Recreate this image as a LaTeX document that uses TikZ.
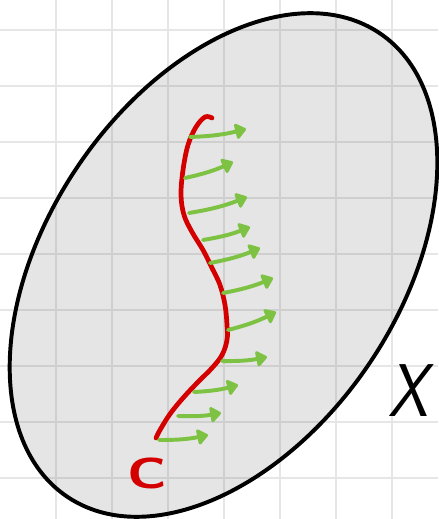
\documentclass[tikz,border=0pt]{standalone}
\usepackage{xcolor}
\usepackage{tikz}
\usetikzlibrary{arrows.meta}
\definecolor{curvered}{HTML}{D40000}
\definecolor{vecgreen}{HTML}{7DC242}
\definecolor{patchgray}{HTML}{E5E5E5}
\definecolor{gridgray}{HTML}{E6E6E6}
\definecolor{gridgrayin}{HTML}{CFCFCF}

\begin{document}
\begin{tikzpicture}[x=0.508pt, y=-0.508pt,
    gridline/.style={line width=1pt},
    patch/.style={rotate around={56:(223.5,265)}},
    tangent/.style={vecgreen, line width=2pt, line cap=round,
      -{Triangle[round, length=6pt, width=9pt]}}]
  \useasboundingbox (0,0) rectangle (438,519);
  \fill[white] (0,0) rectangle (438,519);
  % grid paper
  \foreach \gx in {56,112,...,392}
    \draw[gridline, gridgray] (\gx,0) -- (\gx,519);
  \foreach \gy in {30,86,...,478}
    \draw[gridline, gridgray] (0,\gy) -- (438,\gy);
  % the space X
  \fill[patchgray, patch] (223.5,265) ellipse [x radius=279.5, y radius=176];
  \begin{scope}
    \clip[patch] (223.5,265) ellipse [x radius=279.5, y radius=176];
    \foreach \gx in {56,112,...,392}
      \draw[gridline, gridgrayin] (\gx,0) -- (\gx,519);
    \foreach \gy in {30,86,...,478}
      \draw[gridline, gridgrayin] (0,\gy) -- (438,\gy);
  \end{scope}
  \draw[line width=2pt, patch] (223.5,265) ellipse [x radius=279.5, y radius=176];
  % curve C
  \draw[curvered, line width=2.4pt, line cap=round] plot[smooth, tension=0.6] coordinates {
    (212,118) (205,117) (196,127) (188,145) (183,170) (181,195) (184,215)
    (192,232) (203,250) (212,268) (220,285) (225,305) (227,325) (227,340)
    (222,355) (212,368) (198,382) (183,398) (170,414) (160,430) (156,438)};
  % vectors along C
  \foreach \sx/\sy/\ex/\ey in {190/137/246/129, 185/178/233/162, 189/213/247/197,
      203/240/250/227, 210/263/260/248, 223/293/273/278, 228/330/276/312,
      222/361/267/357, 194/392/238/385, 178/416/221/413, 159/440/208/435}
    \draw[tangent] (\sx,\sy) to[bend right=6] (\ex,\ey);
  % labels
  \node[text=curvered, font=\sffamily\bfseries\fontsize{22}{24}\selectfont, xscale=1.3] (clabel) at (147,473) {C};
  \node[font=\sffamily\slshape\fontsize{38}{40}\selectfont, xscale=0.85] (xlabel) at (408,391) {X};
\end{tikzpicture}
\end{document}
